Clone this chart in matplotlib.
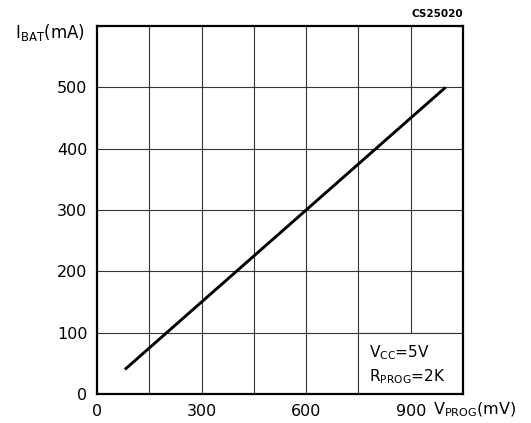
import matplotlib
matplotlib.use("Agg")
import matplotlib.pyplot as plt
from matplotlib.patches import Rectangle

# programming voltage (mV) vs. charge current (mA)
v_prog = [80, 1000]
i_bat = [40, 500]

x_ticks = [0, 300, 600, 900]
x_grid = [150, 300, 450, 600, 750, 900]
y_ticks = [0, 100, 200, 300, 400, 500]

plt.rcParams["font.family"] = "DejaVu Sans"
plt.rcParams["mathtext.fontset"] = "dejavusans"

fig = plt.figure(figsize=(5.31, 4.23), dpi=100)
ax = fig.add_axes([0.1827, 0.0686, 0.8719 - 0.1827, 0.9385 - 0.0686])

ax.set_xlim(0, 1050)
ax.set_ylim(0, 600)

for x in x_grid:
    ax.axvline(x, color="#333333", lw=0.8, zorder=1)
for y in y_ticks[1:]:
    ax.axhline(y, color="#333333", lw=0.8, zorder=1)

ax.plot(v_prog, i_bat, color="black", lw=2.1, solid_capstyle="butt", zorder=3)

# condition box in the lower right cells
ax.add_patch(Rectangle((750, 0), 300, 100, facecolor="white",
                       edgecolor="#333333", lw=0.8, zorder=2))
ax.text(780, 68, r"V$_{\mathrm{CC}}$=5V", fontsize=11, va="center", zorder=4)
ax.text(780, 28, r"R$_{\mathrm{PROG}}$=2K", fontsize=11, va="center", zorder=4)

ax.set_xticks(x_ticks)
ax.set_yticks(y_ticks)
ax.tick_params(length=0, labelsize=11.5, pad=7)
for s in ax.spines.values():
    s.set_linewidth(1.6)

fig.text(0.028, 0.922, r"I$_{\mathrm{BAT}}$(mA)", fontsize=12, va="center")
fig.text(0.815, 0.032, r"V$_{\mathrm{PROG}}$(mV)", fontsize=11.5, va="center")
fig.text(0.8719, 0.967, "CS25020", fontsize=7.5, fontweight="bold",
         ha="right", va="center")

fig.savefig("out.png", dpi=100)
